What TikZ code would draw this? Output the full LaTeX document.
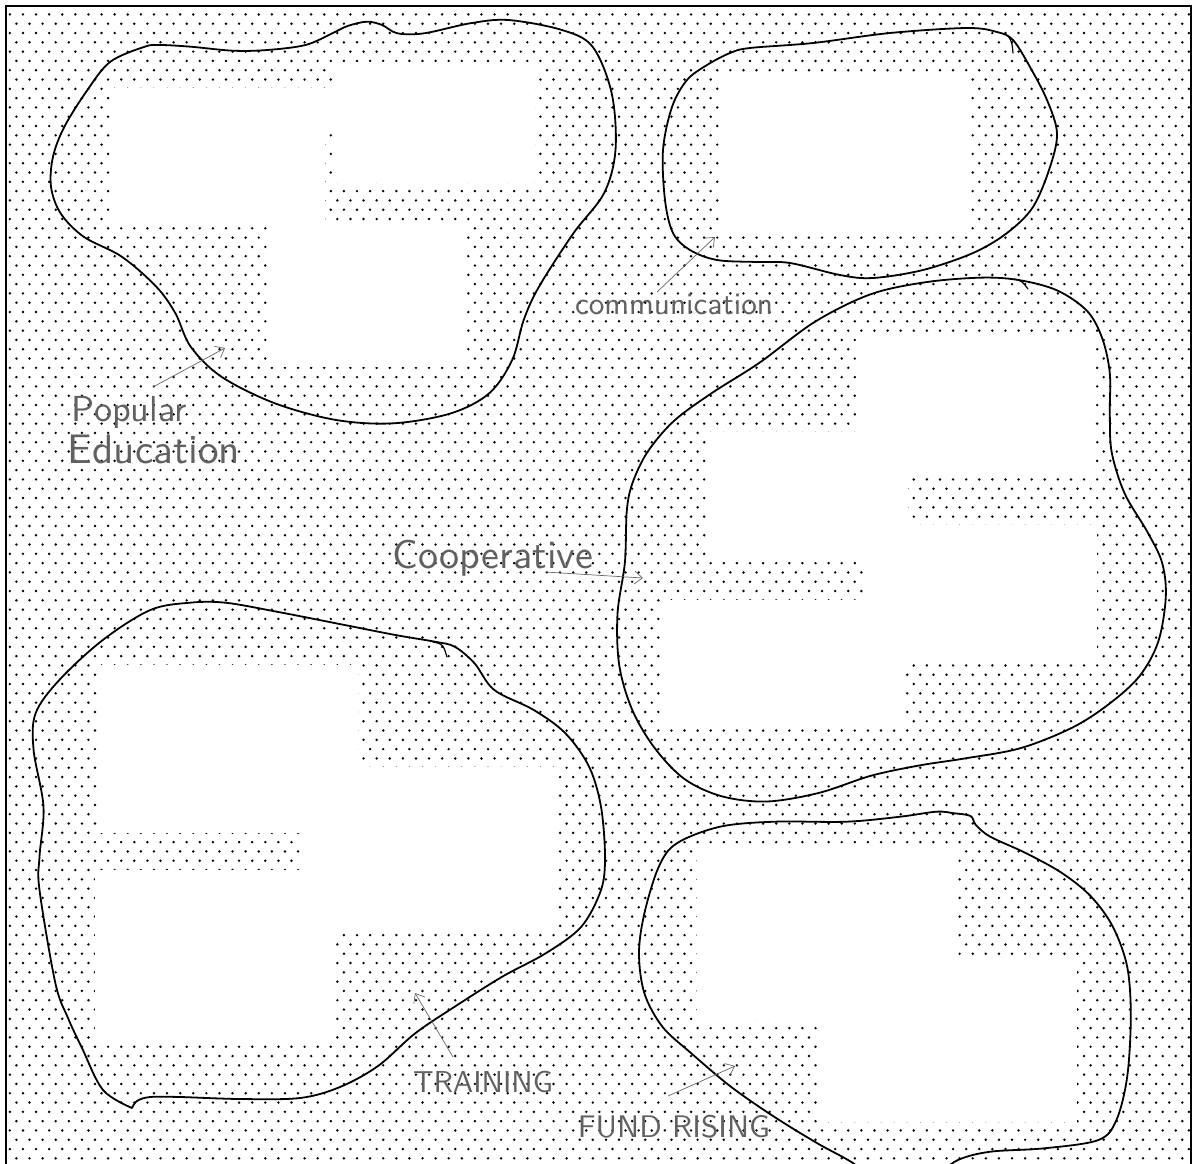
\documentclass[tikz,border=0pt]{standalone}
\usetikzlibrary{arrows.meta,patterns}
\pgfdeclarepatternformonly{scandots}{\pgfpoint{-2pt}{-2pt}}{\pgfpoint{15pt}{21pt}}{\pgfpoint{13.1pt}{18.6pt}}{%
  \pgfpathcircle{\pgfpoint{3.3pt}{4.65pt}}{1.35pt}%
  \pgfpathcircle{\pgfpoint{9.85pt}{13.95pt}}{1.35pt}%
  \pgfusepath{fill}}
\tikzset{
  blob/.style={draw=black, line width=1.8pt, line join=round, line cap=round},
  hook/.style={draw=black, line width=1.2pt, line cap=round},
  blank/.style={fill=white, draw=none},
  lbl/.style={text=black!62, inner sep=0pt, font=\sffamily},
  ptr/.style={draw=black!60, line width=0.7pt, -{Straight Barb[length=8pt,width=13pt]}},
}
\begin{document}
\begin{tikzpicture}[x=1pt,y=-1pt]
\useasboundingbox (0,0) rectangle (1195,1163);
\clip (0,0) rectangle (1195,1163);
% dotted ground inside the frame
\fill[pattern=scandots, pattern color=black] (7,7) rectangle (1190,1170);
\draw[line width=1.8pt] (6,1180) -- (6,6) -- (1191,6) -- (1191,1180);

% ---- white (blank) areas ----
% blob 1
\fill[blank] (336,62) rectangle (535,183);
\fill[blank] (110,88) rectangle (336,130);
\fill[blank] (110,130) rectangle (325,227);
\fill[blank] (267,227) rectangle (466,367);
% blob 2
\fill[blank] (722,72) rectangle (969,233);
% blob 3
\fill[blank] (856,335) rectangle (1095,473);
\fill[blank] (707,432) rectangle (908,562);
\fill[blank] (864,525) rectangle (1097,662);
\fill[blank] (662,600) rectangle (905,727);
% blob 4
\fill[blank] (97,665) rectangle (358,833);
\fill[blank] (300,767) rectangle (557,933);
\fill[blank] (95,870) rectangle (336,1043);
% blob 5
\fill[blank] (697,850) rectangle (956,1020);
\fill[blank] (817,957) rectangle (1077,1122);

% ---- blob outlines ----
\draw[blob] plot[smooth cycle, tension=0.55] coordinates {
 (144.8,46.7) (110.4,61.7) (87.4,90) (64.4,126.7) (53,156.7) (51,186.7)
 (60.6,213.3) (83.6,236.7) (121.8,256.7) (156.3,286.7) (175.4,313.3)
 (190.7,346.7) (221.4,376.7) (274.9,403.3) (336.2,420) (393.6,423.3)
 (451,413.3) (489.2,393.3) (512.2,360) (523.7,320) (539,286.7)
 (573.4,233.3) (604,193.3) (615.5,150) (611.7,93.3) (592.6,46.7)
 (562,30) (508.4,20) (470.1,23.3) (424.2,33.3) (397.4,33.3) (382.1,25)
 (366.8,21.7) (347.6,26) (332.3,33.3) (305.5,45) (267.3,50) (232.8,50.7)
 (190.7,46.7) (160.1,45)};
\draw[blob] plot[smooth cycle, tension=0.55] coordinates {
 (750,48) (813,43) (890,33) (967,28) (997,32) (1013,40) (1030,67)
 (1047,100) (1057,133) (1050,167) (1033,207) (1007,233) (973,253)
 (923,270) (873,278) (840,275) (790,263) (757,262) (717,260) (690,250)
 (673,233) (665,200) (663,150) (672,107) (687,80) (707,65) (730,53)};
\draw[hook] (1008,36) .. controls (1012,42) .. (1013,53);
\draw[blob] plot[smooth cycle, tension=0.55] coordinates {
 (983,277.6) (1020.3,280.3) (1057.6,290.6) (1087.4,311.3) (1102.4,338.8)
 (1109.8,373.2) (1109.8,414.5) (1111.7,452.3) (1124.7,493.6) (1147.1,531.4)
 (1162,562.4) (1165.8,596.8) (1158.3,641.5) (1139.7,675.9) (1109.8,703.4)
 (1072.5,727.5) (1020.3,748.2) (964.4,758.5) (919.6,765.4) (871.1,775.7)
 (818.9,792.9) (766.7,801.5) (721.9,796.3) (684.6,779.1) (654.8,748.2)
 (632.4,710.3) (619.3,665.6) (617.5,614) (624.9,562.4) (626.8,510.8)
 (632.4,483.3) (647.3,452.3) (673.4,421.4) (710.7,393.8) (759.2,362.9)
 (815.2,321.6) (871.1,294.1) (927.1,282)};
\draw[hook] (1014,279) .. controls (1022,281) .. (1028,289);
\draw[blob] plot[smooth, tension=0.55] coordinates {
 (132,1108) (103,1090) (82,1048) (68,1018) (55.4,983.3) (39.5,890)
 (39.5,856.7) (43.5,806.7) (33.6,750) (35.6,713.3) (59.3,680) (102.8,640)
 (150.3,610) (189.8,602.7) (225.4,602.7)
 (276.8,611.7) (336.1,623.3) (395.4,635) (434.9,641.7) (454.7,646.7)
 (474.5,663.3) (494.3,690) (533.8,710) (565.4,733.3) (589.1,766.7)
 (601,806.7) (605,856.7) (601,890) (581.3,926.7) (545.7,953.3)
 (502.2,976.7) (454.7,1006.7) (415.2,1033.3) (378,1066) (340,1087)
 (300,1098) (240,1099) (180,1097) (150,1097) (137,1101) (132,1108)};
\draw[hook] (433,642) .. controls (443,644) .. (447,657);
\draw[blob] plot[smooth cycle, tension=0.55] coordinates {
 (676.8,843.3) (720.1,826.7) (774.1,821.7) (846.2,821.7) (900.2,816.7)
 (936.3,811.7) (954.3,813.3) (970.5,816) (975.9,825) (990.3,836.7)
 (1026.3,853.3) (1062.4,873.3) (1091.2,896.7) (1112.8,926.7)
 (1127.2,966.7) (1130.8,1016.7) (1127.2,1076.7) (1116.4,1120)
 (1098.4,1140) (1044.3,1148.3) (990.3,1151.7) (957.9,1160) (930,1178)
 (880,1185) (853.4,1163.3) (817.4,1143.3) (774.1,1116.7) (730.9,1086.7)
 (691.3,1053.3) (662.4,1026.7) (644.4,993.3) (639,953.3) (644.4,913.3)
 (658.8,866.7)};

% ---- labels ----
\node[lbl] (pop) at (129.5,412) {\resizebox{115pt}{!}{Popular}};
\node[lbl] (edu) at (154,449) {\resizebox{172pt}{!}{Education}};
\node[lbl] (com) at (674,304) {\resizebox{198pt}{!}{communication}};
\node[lbl] (coop) at (493,558) {\resizebox{200pt}{!}{Cooperative}};
\node[lbl] (trn) at (483,1082) {\resizebox{140pt}{!}{TRAINING}};
\node[lbl] (fund) at (674,1127) {\resizebox{192pt}{!}{FUND RISING}};

% ---- pointers ----
\coordinate (popS) at (153,387);  \coordinate (popT) at (225,348);
\coordinate (comS) at (657,292);  \coordinate (comT) at (715,237);
\coordinate (coopS) at (545,572); \coordinate (coopT) at (643,578);
\coordinate (trnS) at (453,1057); \coordinate (trnT) at (415,993);
\coordinate (fundS) at (668,1096); \coordinate (fundT) at (735,1066);
\draw[ptr] (popS) -- (popT);
\draw[ptr] (comS) -- (comT);
\draw[ptr] (coopS) -- (coopT);
\draw[ptr] (trnS) -- (trnT);
\draw[ptr] (fundS) -- (fundT);
\end{tikzpicture}
\end{document}
